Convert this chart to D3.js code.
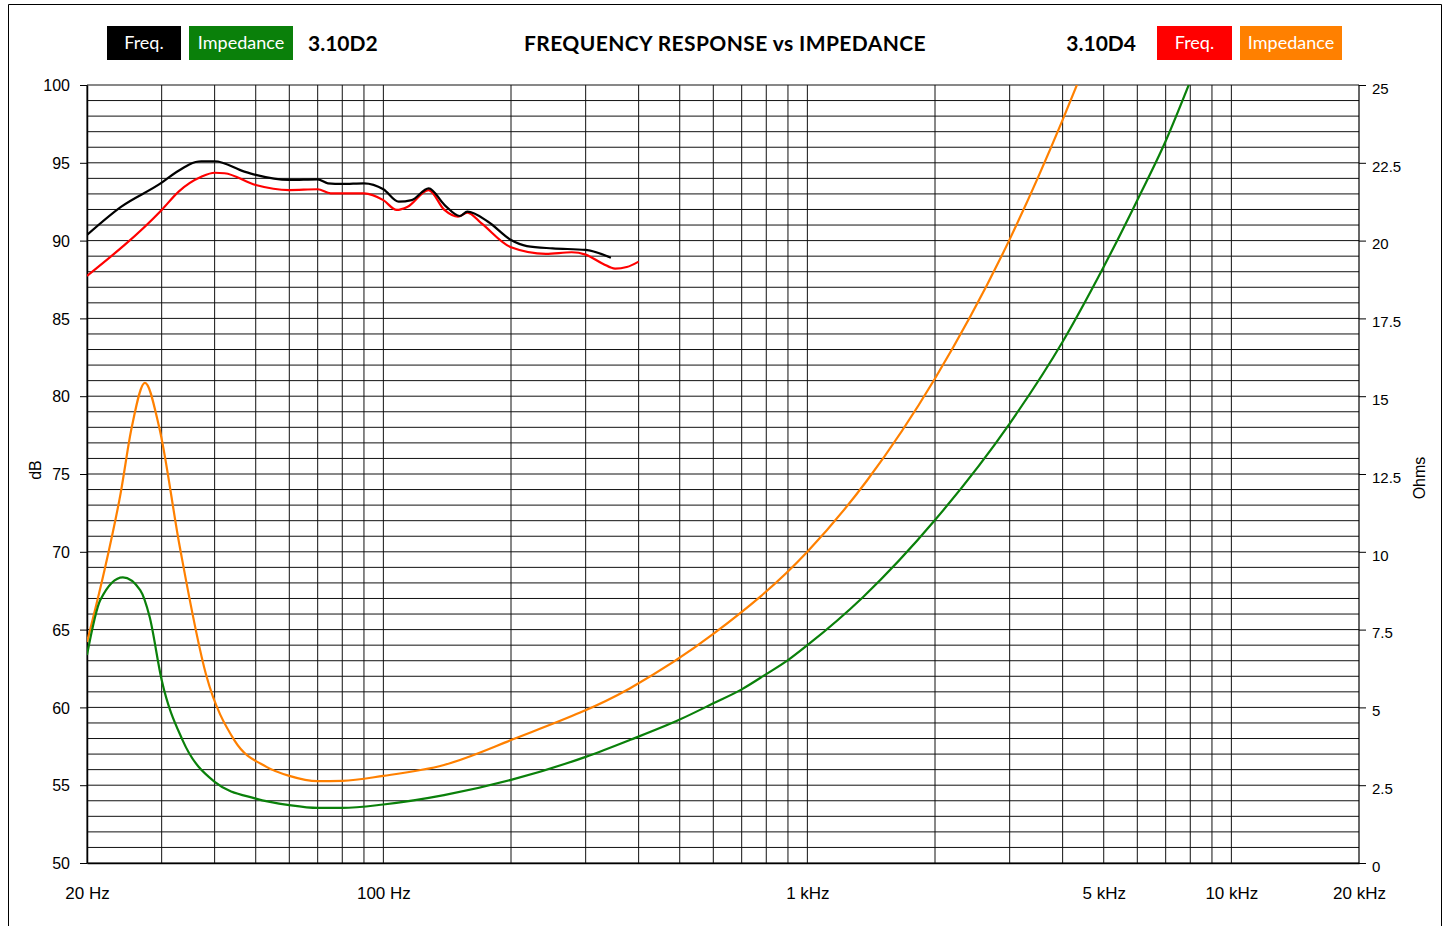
<!DOCTYPE html>
<html>
<head>
<meta charset="utf-8">
<script src="https://cdn.jsdelivr.net/npm/d3@7"></script>
<style>
  body { margin: 0; background: #fff; }
  svg { display: block; }
  .axis text { font-family: "Liberation Sans", Arial, sans-serif; fill: #000; }
  .head { font-family: Lato, "Open Sans", sans-serif; }
</style>
</head>
<body>
<svg id="chart" width="1449" height="926"></svg>
<script>
// ---- data ----
// 3.10D2 frequency response (black), dB
const freqD2 = [20, 24.1, 30, 32.2, 37.2, 40, 47, 50, 60, 70, 74, 80, 90, 100, 108.7, 116.6, 127.9, 139.3, 151.5, 157.8, 176.6, 200, 218, 250.7, 300, 344];
const splD2 = [90.36, 92.18, 93.72, 94.33, 95.1, 95.1, 94.43, 94.22, 93.9, 93.94, 93.68, 93.64, 93.68, 93.3, 92.5, 92.6, 93.36, 92.3, 91.58, 91.86, 91.21, 90.04, 89.65, 89.5, 89.4, 88.9];

// 3.10D4 frequency response (red), dB
const freqD4 = [20, 30, 32.9, 37.2, 40, 42.2, 50, 60, 70, 75.1, 90, 100, 107.5, 114.1, 127.9, 139.3, 150, 157.8, 170.4, 200, 241.7, 278, 300, 330, 352, 375, 400];
const splD4 = [87.73, 91.97, 93.15, 94.1, 94.36, 94.33, 93.57, 93.25, 93.3, 93.04, 93.04, 92.6, 91.97, 92.18, 93.25, 91.97, 91.54, 91.8, 91.1, 89.57, 89.15, 89.25, 89.1, 88.5, 88.2, 88.3, 88.65];

// 3.10D2 impedance (green), Ohms
const freqZ2 = [20, 21.5, 24.3, 26.7, 28.1, 30, 33.6, 40, 50, 60, 70, 80, 100, 139, 200, 300, 381, 500, 600, 700, 800, 900, 1000, 1354, 2000, 3000, 4000, 5000, 6000, 7000, 7960];
const ohmZ2 = [6.68, 8.45, 9.18, 8.77, 7.91, 5.88, 3.95, 2.61, 2.07, 1.86, 1.77, 1.77, 1.88, 2.18, 2.67, 3.41, 3.95, 4.61, 5.13, 5.58, 6.07, 6.52, 7.0, 8.55, 11.02, 14.12, 16.75, 19.16, 21.3, 23.2, 25.05];

// 3.10D4 impedance (orange), Ohms
const freqZ4 = [20, 21.9, 24.0, 25.5, 27.4, 29.6, 33.1, 38.2, 44.5, 53, 60, 70, 80, 100, 139, 200, 381, 600, 1000, 1384, 2000, 3000, 4000, 4340];
const ohmZ4 = [7.1, 9.3, 11.87, 14.0, 15.43, 14.0, 10.16, 6.04, 3.95, 3.09, 2.80, 2.63, 2.64, 2.80, 3.15, 3.95, 5.61, 7.36, 10.0, 12.3, 15.57, 20.04, 23.88, 25.06];

// axis ticks
const dbTicks = [50, 55, 60, 65, 70, 75, 80, 85, 90, 95, 100];
const ohmTicks = [0, 2.5, 5, 7.5, 10, 12.5, 15, 17.5, 20, 22.5, 25];
const freqTicks = [20, 100, 1000, 5000, 10000, 20000];
const freqLabels = ["20 Hz", "100 Hz", "1 kHz", "5 kHz", "10 kHz", "20 kHz"];

const svg = d3.select("#chart");
const plotL = 87, plotR = 1359, plotT = 85, plotB = 863;

const x = d3.scaleLog().domain([20, 20000]).range([plotL, plotR]);
const yDb = d3.scaleLinear().domain([50, 100]).range([plotB, plotT]);
const yOhm = d3.scaleLinear().domain([0, 25]).range([plotB, plotT]);

// outer frame (open at the bottom)
svg.append("path")
    .attr("d", "M8.5,930 V4.5 H1441.5 V930")
    .attr("fill", "none")
    .attr("stroke", "#000")
    .attr("stroke-width", 1);

// grid
const grid = svg.append("g").attr("class", "grid");
grid.selectAll("line.h")
    .data(d3.range(50, 101, 1))
    .enter().append("line")
    .attr("class", "h")
    .attr("x1", plotL).attr("x2", plotR)
    .attr("y1", d => yDb(d)).attr("y2", d => yDb(d))
    .attr("stroke", "#111")
    .attr("stroke-width", 1);

grid.selectAll("line.v")
    .data(x.ticks().filter(f => f <= 10000))
    .enter().append("line")
    .attr("class", "v")
    .attr("x1", d => x(d)).attr("x2", d => x(d))
    .attr("y1", plotT).attr("y2", plotB)
    .attr("stroke", "#111")
    .attr("stroke-width", 1);

// right edge of plot
svg.append("line").attr("x1", plotR).attr("x2", plotR).attr("y1", plotT).attr("y2", plotB)
    .attr("stroke", "#000").attr("stroke-width", 1.2);

// left axis
const axL = svg.append("g").attr("class", "axis")
    .attr("transform", `translate(${plotL},0)`)
    .call(d3.axisLeft(yDb).tickValues(dbTicks).tickSize(7).tickPadding(10).tickSizeOuter(0));
axL.select(".domain").attr("stroke", "#000").attr("stroke-width", 1.5);
axL.selectAll("text").style("font-size", "16px").attr("dy", "0.36em");

// right axis
const axR = svg.append("g").attr("class", "axis")
    .attr("transform", `translate(${plotR},0)`)
    .call(d3.axisRight(yOhm).tickValues(ohmTicks).tickSize(7).tickPadding(6).tickSizeOuter(0)
        .tickFormat(d => d));
axR.select(".domain").remove();
axR.selectAll("text").style("font-size", "15px").attr("dy", "0.55em");

// bottom axis
const axB = svg.append("g").attr("class", "axis")
    .attr("transform", `translate(0,${plotB})`)
    .call(d3.axisBottom(x).tickValues(freqTicks).tickSize(0).tickPadding(24)
        .tickFormat((d, i) => freqLabels[i]));
axB.select(".domain").attr("stroke", "#000").attr("stroke-width", 1.5);
axB.selectAll("text").style("font-size", "17px");

// axis titles
svg.append("text")
    .attr("transform", "translate(41,470) rotate(-90)")
    .attr("text-anchor", "middle")
    .style("font-family", "Liberation Sans, Arial, sans-serif")
    .style("font-size", "16px")
    .text("dB");
svg.append("text")
    .attr("transform", "translate(1425,478) rotate(-90)")
    .attr("text-anchor", "middle")
    .style("font-family", "Liberation Sans, Arial, sans-serif")
    .style("font-size", "16px")
    .text("Ohms");

// curves
svg.append("clipPath").attr("id", "plotClip")
    .append("rect").attr("x", plotL).attr("y", plotT).attr("width", plotR - plotL).attr("height", plotB - plotT);

const curves = svg.append("g").attr("clip-path", "url(#plotClip)");

function drawCurve(freqs, vals, yScale, color) {
    const pts = freqs.map((f, i) => [x(f), yScale(vals[i])]);
    curves.append("path")
        .datum(pts)
        .attr("fill", "none")
        .attr("stroke", color)
        .attr("stroke-width", 2.2)
        .attr("stroke-linejoin", "round")
        .attr("d", d3.line().curve(d3.curveMonotoneX));
}

drawCurve(freqZ4, ohmZ4, yOhm, "#ff8000");
drawCurve(freqZ2, ohmZ2, yOhm, "#0a800a");
drawCurve(freqD4, splD4, yDb, "#ff0000");
drawCurve(freqD2, splD2, yDb, "#000000");

// header legend boxes
const head = svg.append("g").attr("class", "head");
const boxes = [
    { x: 107, w: 74, color: "#000000", label: "Freq." },
    { x: 189, w: 104, color: "#0a800a", label: "Impedance" },
    { x: 1157, w: 75, color: "#ff0000", label: "Freq." },
    { x: 1240, w: 102, color: "#ff8000", label: "Impedance" }
];
boxes.forEach(b => {
    head.append("rect")
        .attr("x", b.x).attr("y", 26).attr("width", b.w).attr("height", 34)
        .attr("fill", b.color);
    head.append("text")
        .attr("x", b.x + b.w / 2).attr("y", 49)
        .attr("text-anchor", "middle")
        .attr("fill", "#fff")
        .style("font-size", "18px")
        .text(b.label);
});

head.append("text")
    .attr("x", 308).attr("y", 51)
    .style("font-size", "21px").style("font-weight", "bold")
    .text("3.10D2");
head.append("text")
    .attr("x", 1136).attr("y", 51)
    .attr("text-anchor", "end")
    .style("font-size", "21px").style("font-weight", "bold")
    .text("3.10D4");
head.append("text")
    .attr("x", 725).attr("y", 51)
    .attr("text-anchor", "middle")
    .style("font-size", "21px").style("font-weight", "bold")
    .style("letter-spacing", "0.4px")
    .text("FREQUENCY RESPONSE vs IMPEDANCE");
</script>
</body>
</html>
